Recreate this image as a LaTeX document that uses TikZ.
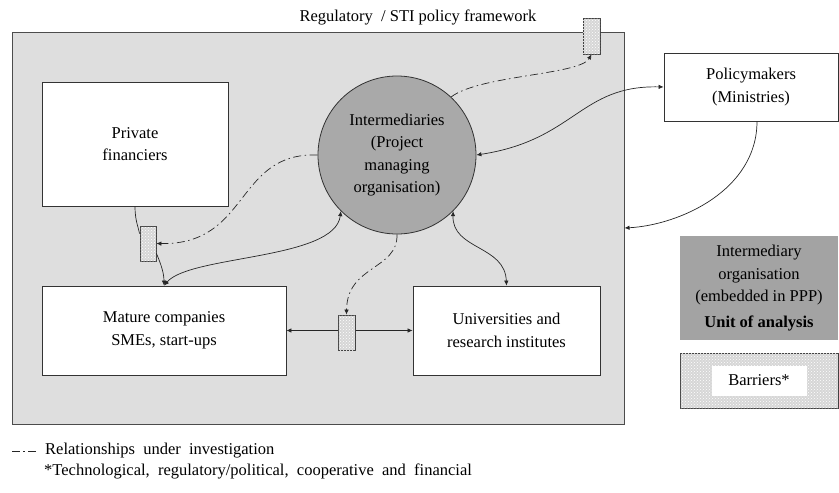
\documentclass[tikz,border=0pt]{standalone}
\usepackage{fontspec}
\setmainfont{Liberation Serif}
\usetikzlibrary{arrows.meta,patterns}
\definecolor{framegray}{HTML}{DEDEDE}
\definecolor{circlegray}{HTML}{A9A9A9}
\definecolor{unitgray}{HTML}{A3A3A3}

\begin{document}
\begin{tikzpicture}[x=1pt,y=-1pt,
    every node/.style={font=\fontsize{16.5}{22.5}\selectfont},
    actor/.style={draw=black!80,fill=white,line width=0.8pt,align=center,inner sep=0pt},
    barrier/.style={draw=black!75,line width=0.8pt,fill=black!16,
      postaction={pattern=crosshatch dots,pattern color=white},inner sep=0pt},
    link/.style={line width=0.7pt,draw=black!85,
      {Latex[length=5pt,width=4.5pt]}-{Latex[length=5pt,width=4.5pt]}},
    oneway/.style={line width=0.7pt,draw=black!85,-{Latex[length=5pt,width=4.5pt]}},
    invest/.style={line width=0.7pt,draw=black!85,
      dash pattern=on 8pt off 3.5pt on 1.5pt off 3.5pt,-{Latex[length=5pt,width=4.5pt]}}]
    \useasboundingbox (0,0) rectangle (839,493);

    %%%%% FRAMEWORK %%%%%
    \node[draw=black!70,fill=framegray,line width=1pt,inner sep=0pt,
      minimum width=612pt,minimum height=392pt] (frame) at (318,228) {};
    \node (title) at (418,17) {Regulatory \ / STI policy framework};

    %%%%% ACTORS %%%%%
    \node[actor,minimum width=186pt,minimum height=124pt] (pf) at (135,144) {Private\\financiers};
    \node[actor,minimum width=244pt,minimum height=89pt] (mc) at (164,330.5) {Mature companies\\SMEs, start-ups};
    \node[actor,minimum width=187pt,minimum height=89pt] (uni) at (506.5,330.5) {Universities and\\research institutes};
    \node[actor,minimum width=174pt,minimum height=68pt] (pm) at (751,87) {Policymakers\\(Ministries)};
    \node[circle,draw=black!80,fill=circlegray,line width=0.8pt,align=center,inner sep=0pt,
      minimum size=158pt] (im) at (397,155) {Intermediaries\\(Project\\managing\\organisation)};

    \draw[link] (mc.east) -- (uni.west);

    %%%%% BARRIERS %%%%%
    \node[barrier,minimum width=17pt,minimum height=36pt] (tbar) at (591.5,36) {};
    \node[barrier,minimum width=16pt,minimum height=35pt] (lbar) at (148,243.5) {};
    \node[barrier,minimum width=17pt,minimum height=35pt] (mbar) at (346.5,332.5) {};

    %%%%% RELATIONS %%%%%
    \draw[line width=0.7pt,draw=black!85] (pf.south) .. controls (135,220) and (138,226) .. ([yshift=-8pt]lbar.north west);
    \draw[oneway] ([yshift=8pt]lbar.south east) .. controls (160,262) and (164,272) .. (mc.north);
    \draw[link] (mc.north) .. controls (190,255) and (335,260) .. (im.225);
    \draw[invest] (im.west) .. controls (235,152) and (250,245) .. (lbar.east);
    \draw[invest] (im.47) .. controls (480,75) and (580,75) .. (tbar.south);
    \draw[link] (pm.west) .. controls (580,85) and (575,140) .. (im.east);
    \draw[oneway] ([xshift=6pt]pm.south) .. controls (757,190) and (680,225) .. (frame.east);
    \draw[link] (im.-45) .. controls (452,250) and (505,245) .. (uni.north);
    \draw[invest] (im.south) .. controls (398,270) and (347,265) .. (mbar.north);

    %%%%% KEY %%%%%
    \node[fill=unitgray,minimum width=158pt,minimum height=104pt,align=center,inner sep=0pt] (unit) at (759,288)
      {Intermediary\\organisation\\(embedded in PPP)\\[3pt]\textbf{Unit of analysis}};
    \node[barrier,minimum width=158pt,minimum height=55pt] (barkey) at (759,380.5) {};
    \node[fill=white,minimum width=95pt,minimum height=30pt,inner sep=0pt] (barlabel) at (barkey) {Barriers*};

    \node[anchor=west,inner sep=0pt] (leg) at (45,451) {Relationships \ under \ investigation};
    \draw[invest,-] ([xshift=-9pt]leg.west) -- ++(-24,0);
    \node[anchor=west,inner sep=0pt] (note) at (44,471) {*Technological, \ regulatory/political, \ cooperative \ and \ financial};
\end{tikzpicture}
\end{document}
